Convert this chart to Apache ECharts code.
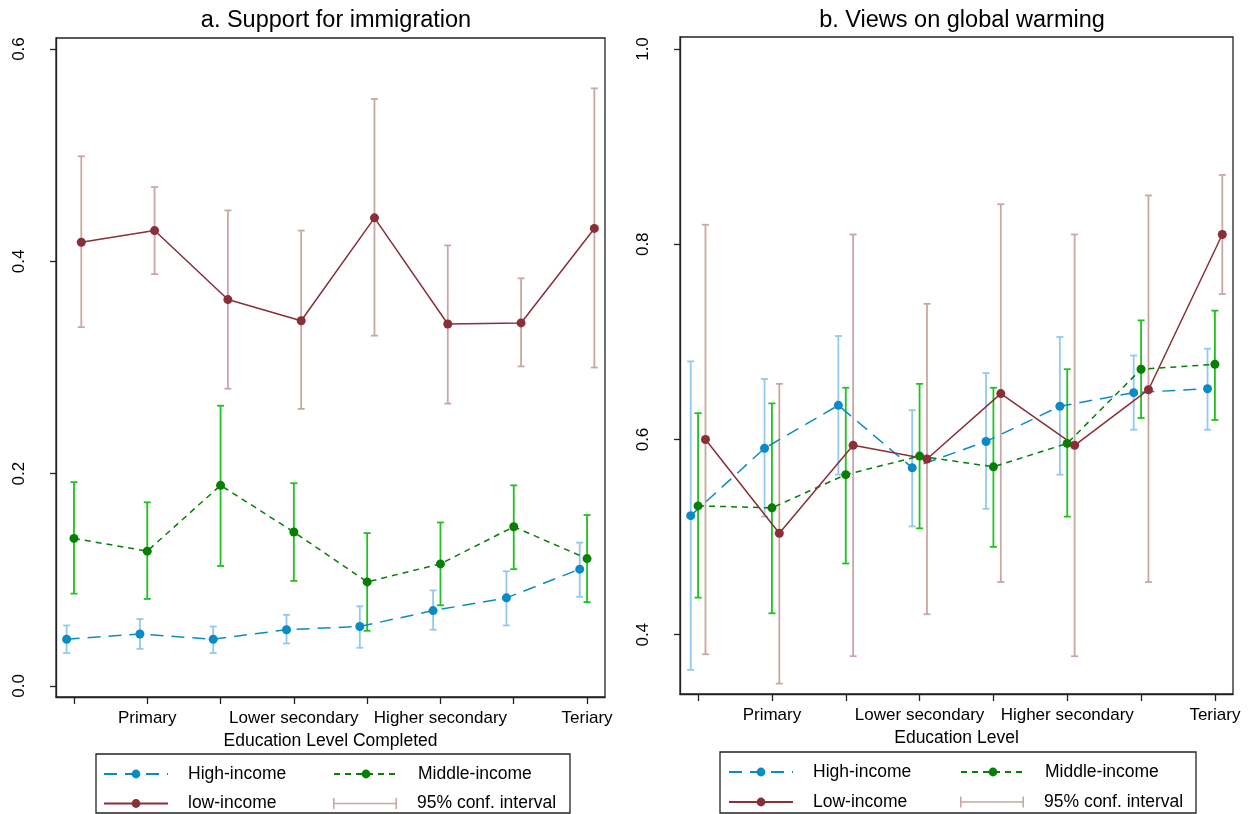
<!DOCTYPE html>
<html>
<head>
<meta charset="utf-8">
<script src="https://cdn.jsdelivr.net/npm/echarts@6/dist/echarts.min.js"></script>
<style>
  html, body { margin: 0; padding: 0; background: #fff; }
  #chart { width: 1249px; height: 814px; }
</style>
</head>
<body>
<div id="chart"></div>
<script>
// Education levels along the x axis (8 positions, labelled every other one)
const educationTicks = ['', 'Primary', '', 'Lower secondary', '', 'Higher secondary', '', 'Teriary'];

// a. Support for immigration: predicted share with 95% CI bounds
const immHigh   = [0.044, 0.049, 0.044, 0.053, 0.056, 0.071, 0.083, 0.110];
const immHighLo = [0.031, 0.035, 0.031, 0.040, 0.036, 0.053, 0.057, 0.084];
const immHighHi = [0.057, 0.063, 0.056, 0.067, 0.075, 0.090, 0.108, 0.135];
const immMid    = [0.139, 0.127, 0.189, 0.145, 0.098, 0.115, 0.150, 0.120];
const immMidLo  = [0.087, 0.082, 0.113, 0.099, 0.052, 0.076, 0.110, 0.079];
const immMidHi  = [0.192, 0.173, 0.264, 0.191, 0.144, 0.154, 0.189, 0.161];
const immLow    = [0.418, 0.429, 0.364, 0.344, 0.441, 0.341, 0.342, 0.431];
const immLowLo  = [0.338, 0.388, 0.280, 0.261, 0.330, 0.266, 0.301, 0.300];
const immLowHi  = [0.499, 0.470, 0.448, 0.429, 0.553, 0.415, 0.384, 0.563];

// b. Views on global warming: predicted share with 95% CI bounds
const gwHigh   = [0.522, 0.591, 0.635, 0.571, 0.598, 0.634, 0.648, 0.652];
const gwHighLo = [0.364, 0.521, 0.564, 0.511, 0.529, 0.564, 0.610, 0.610];
const gwHighHi = [0.680, 0.662, 0.706, 0.630, 0.668, 0.705, 0.686, 0.693];
const gwMid    = [0.532, 0.530, 0.564, 0.583, 0.572, 0.596, 0.672, 0.677];
const gwMidLo  = [0.438, 0.422, 0.473, 0.509, 0.490, 0.521, 0.622, 0.620];
const gwMidHi  = [0.627, 0.637, 0.653, 0.657, 0.653, 0.672, 0.722, 0.732];
const gwLow    = [0.600, 0.504, 0.594, 0.580, 0.647, 0.594, 0.651, 0.810];
const gwLowLo  = [0.380, 0.350, 0.378, 0.421, 0.454, 0.378, 0.454, 0.749];
const gwLowHi  = [0.820, 0.657, 0.810, 0.739, 0.841, 0.810, 0.850, 0.871];

// y tick values per panel
const immYTicks = [0, 0.2, 0.4, 0.6];
const gwYTicks  = [0.4, 0.6, 0.8, 1.0];

const FONT = '"Liberation Sans", Arial, Helvetica, sans-serif';
const INK = '#222';

const C = {
  high: '#0b8bc3', highCI: '#93c9ee',
  mid: '#077f07',  midCI: '#1fc21f',
  low: '#8a2e38',  lowCI: '#c9a7a3'
};
// small horizontal dodge so the three groups do not overlap
const DODGE = { high: -0.1, mid: 0, low: 0.1 };

const positions = educationTicks.map((_, i) => i + 1);

function points(vals, dodge) {
  return vals.map((v, i) => [positions[i] + dodge, v]);
}
function intervals(lo, hi, dodge) {
  return lo.map((l, i) => [positions[i] + dodge, l, hi[i]]);
}

function lineSeries(name, vals, dodge, color, dash, gi) {
  return {
    type: 'line', name, xAxisIndex: gi, yAxisIndex: gi,
    data: points(vals, dodge),
    symbol: 'circle', symbolSize: 9, showSymbol: true,
    itemStyle: { color },
    lineStyle: { color, width: 1.5, type: dash },
    emphasis: { disabled: true },
    z: 4
  };
}

function ciSeries(name, lo, hi, dodge, color, gi) {
  const cap = 3.5;
  return {
    type: 'custom', name, xAxisIndex: gi, yAxisIndex: gi,
    data: intervals(lo, hi, dodge),
    encode: { x: 0, y: [1, 2] },
    itemStyle: { color },
    z: 3,
    renderItem(params, api) {
      const x = api.value(0);
      const pLo = api.coord([x, api.value(1)]);
      const pHi = api.coord([x, api.value(2)]);
      const st = { stroke: color, lineWidth: 1.8, fill: null };
      return {
        type: 'group',
        children: [
          { type: 'line', shape: { x1: pLo[0], y1: pLo[1], x2: pHi[0], y2: pHi[1] }, style: st },
          { type: 'line', shape: { x1: pLo[0] - cap, y1: pLo[1], x2: pLo[0] + cap, y2: pLo[1] }, style: st },
          { type: 'line', shape: { x1: pHi[0] - cap, y1: pHi[1], x2: pHi[0] + cap, y2: pHi[1] }, style: st }
        ]
      };
    }
  };
}

const grids = [
  { left: 56, top: 38, width: 549, height: 659 },
  { left: 680, top: 37, width: 553, height: 657 }
];

function xAxis(gi, title) {
  return {
    type: 'value', gridIndex: gi, min: 0.755, max: 8.245,
    name: title, nameLocation: 'middle', nameGap: 27,
    nameTextStyle: { fontFamily: FONT, fontSize: 17.5, color: '#000' },
    axisLine: { show: true, onZero: false, lineStyle: { color: INK, width: 1.3 } },
    axisTick: { show: true, length: 7, customValues: positions, lineStyle: { color: INK, width: 1.3 } },
    axisLabel: {
      customValues: positions, margin: 13,
      fontFamily: FONT, fontSize: 17, color: '#000',
      formatter: v => educationTicks[Math.round(v) - 1] || ''
    },
    splitLine: { show: false }
  };
}

function yAxis(gi, min, max, ticks) {
  return {
    type: 'value', gridIndex: gi, min, max,
    axisLine: { show: true, onZero: false, lineStyle: { color: INK, width: 1.3 } },
    axisTick: { show: true, length: 6, customValues: ticks, lineStyle: { color: INK, width: 1.3 } },
    axisLabel: {
      customValues: ticks, rotate: 90, margin: 28,
      fontFamily: FONT, fontSize: 17, color: '#000',
      formatter: v => v.toFixed(1)
    },
    splitLine: { show: false }
  };
}

const ciIcon = 'path://M0,0h1.6v11h-1.6z M0,4.7h64v1.6h-64z M62.4,0h1.6v11h-1.6z';

function legendItem(name, left, top, icon) {
  const item = icon ? { name, icon } : { name };
  return {
    show: true, data: [item], left, top, padding: 0,
    itemWidth: 64, itemHeight: 11, selectedMode: false,
    textStyle: { fontFamily: FONT, fontSize: 17.5, color: '#000', padding: [0, 0, 0, 15] }
  };
}

const option = {
  animation: false,
  backgroundColor: '#fff',
  title: [
    { text: 'a. Support for immigration', left: 336, top: 9, textAlign: 'center', padding: 0,
      textStyle: { fontFamily: FONT, fontSize: 23.5, fontWeight: 'normal', color: '#000' } },
    { text: 'b. Views on global warming', left: 962, top: 9, textAlign: 'center', padding: 0,
      textStyle: { fontFamily: FONT, fontSize: 23.5, fontWeight: 'normal', color: '#000' } }
  ],
  grid: grids.map(g => Object.assign({ show: true, borderColor: INK, borderWidth: 1.3, backgroundColor: 'transparent', containLabel: false }, g)),
  xAxis: [xAxis(0, 'Education Level Completed'), xAxis(1, 'Education Level')],
  yAxis: [yAxis(0, -0.0104, 0.6104, immYTicks), yAxis(1, 0.3393, 1.0123, gwYTicks)],
  legend: [
    legendItem('High-income', 103, 765),
    legendItem('Middle-income', 333, 765),
    legendItem('low-income', 103, 794.5),
    legendItem('95% conf. interval', 333, 794.5, ciIcon),
    legendItem('High-income', 728, 763),
    legendItem('Middle-income', 960, 763),
    legendItem('Low-income', 728, 793),
    legendItem('95% conf. interval', 960, 793, ciIcon)
  ],
  graphic: [
    { type: 'rect', silent: true, shape: { x: 96, y: 754, width: 474, height: 59 },
      style: { fill: 'none', stroke: INK, lineWidth: 1.3 } },
    { type: 'rect', silent: true, shape: { x: 720, y: 752, width: 476, height: 61 },
      style: { fill: 'none', stroke: INK, lineWidth: 1.3 } }
  ],
  series: [
    // panel a
    ciSeries('95% conf. interval', immLowLo, immLowHi, DODGE.low, C.lowCI, 0),
    ciSeries('High-income CI', immHighLo, immHighHi, DODGE.high, C.highCI, 0),
    ciSeries('Middle-income CI', immMidLo, immMidHi, DODGE.mid, C.midCI, 0),
    lineSeries('High-income', immHigh, DODGE.high, C.high, [13, 8], 0),
    lineSeries('Middle-income', immMid, DODGE.mid, C.mid, [6, 5], 0),
    lineSeries('low-income', immLow, DODGE.low, C.low, 'solid', 0),
    // panel b
    ciSeries('95% conf. interval', gwLowLo, gwLowHi, DODGE.low, C.lowCI, 1),
    ciSeries('High-income CI', gwHighLo, gwHighHi, DODGE.high, C.highCI, 1),
    ciSeries('Middle-income CI', gwMidLo, gwMidHi, DODGE.mid, C.midCI, 1),
    lineSeries('High-income', gwHigh, DODGE.high, C.high, [13, 8], 1),
    lineSeries('Middle-income', gwMid, DODGE.mid, C.mid, [6, 5], 1),
    lineSeries('Low-income', gwLow, DODGE.low, C.low, 'solid', 1)
  ]
};

const chart = echarts.init(document.getElementById('chart'), null, { renderer: 'canvas' });
chart.setOption(option);
</script>
</body>
</html>
